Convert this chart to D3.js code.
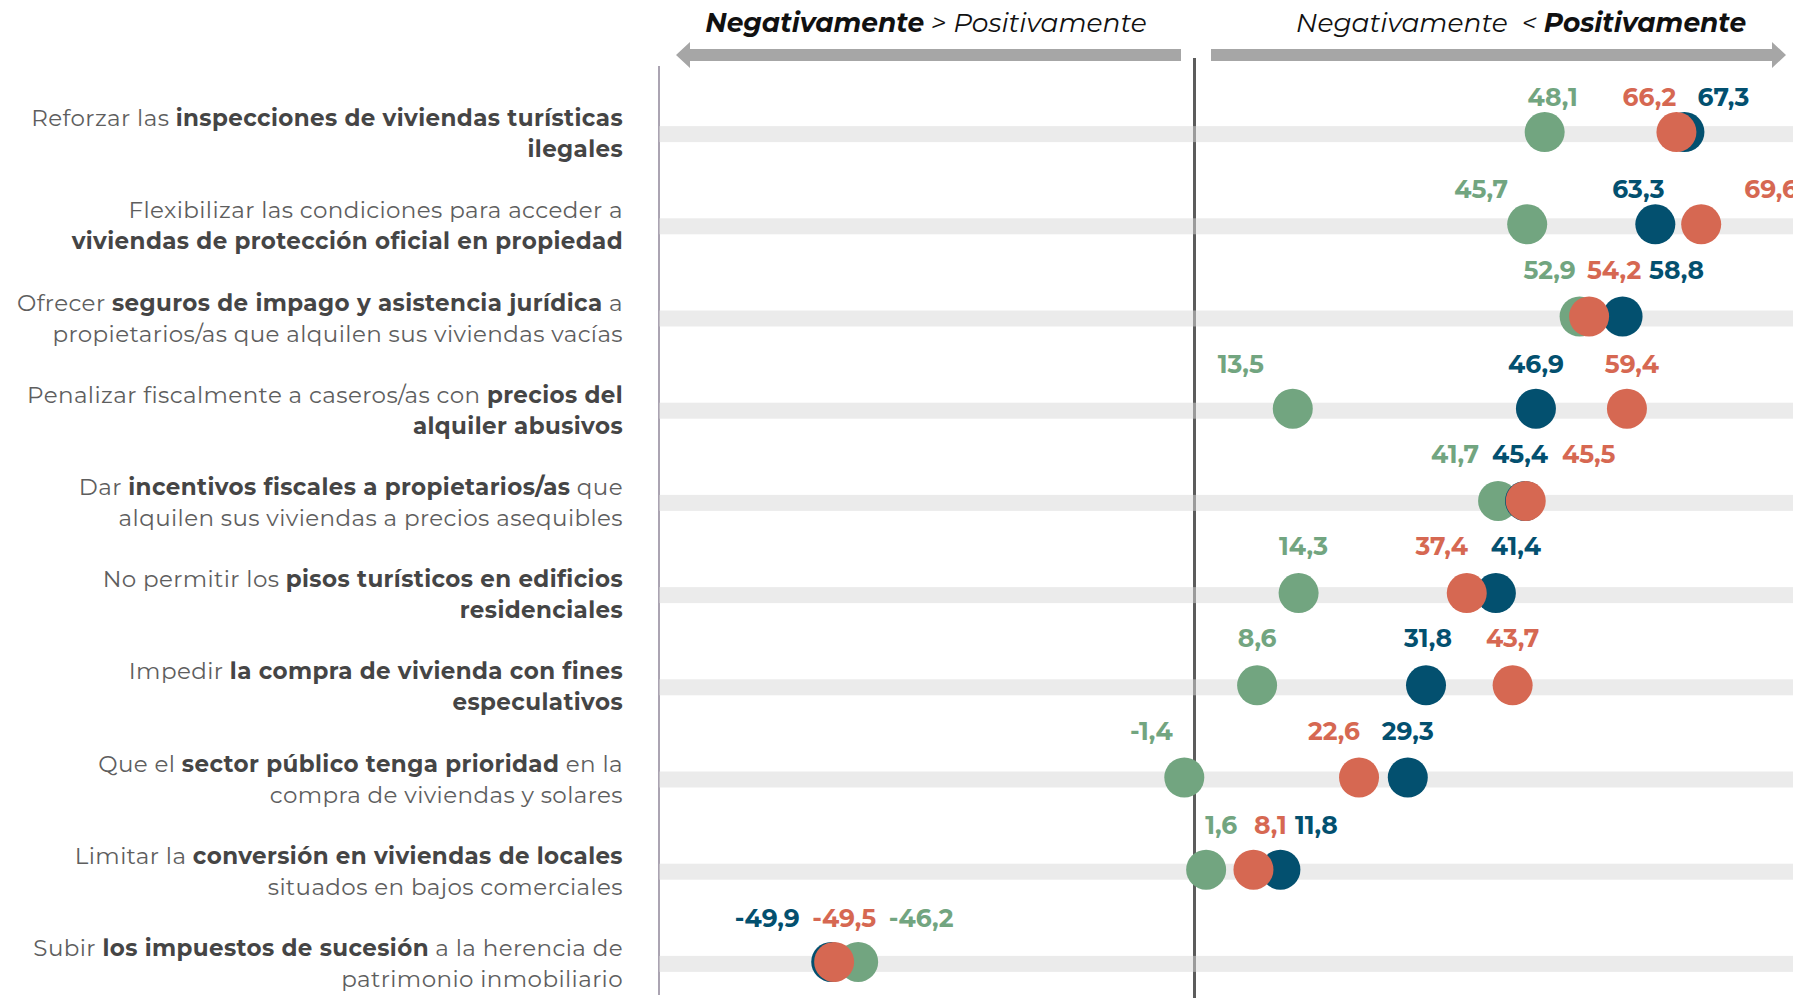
<!DOCTYPE html>
<html>
<head>
<meta charset="utf-8">
<script src="https://cdn.jsdelivr.net/npm/d3@7"></script>
<style>
  body { margin: 0; background: #fff; }
  svg { display: block; }
</style>
</head>
<body>
<div id="app"></div>
<script>
// rows, top to bottom. "|" = line break, **...** = bold
const categories = [
  "Reforzar las **inspecciones de viviendas turísticas**|**ilegales**",
  "Flexibilizar las condiciones para acceder a|**viviendas de protección oficial en propiedad**",
  "Ofrecer **seguros de impago y asistencia jurídica** a|propietarios/as que alquilen sus viviendas vacías",
  "Penalizar fiscalmente a caseros/as con **precios del**|**alquiler abusivos**",
  "Dar **incentivos fiscales a propietarios/as** que|alquilen sus viviendas a precios asequibles",
  "No permitir los **pisos turísticos en edificios**|**residenciales**",
  "Impedir **la compra de vivienda con fines**|**especulativos**",
  "Que el **sector público tenga prioridad** en la|compra de viviendas y solares",
  "Limitar la **conversión en viviendas de locales**|situados en bajos comerciales",
  "Subir **los impuestos de sucesión** a la herencia de|patrimonio inmobiliario"
]

// three groups (drawn in this order: green under blue under red)
const greenValues = [48.1, 45.7, 52.9, 13.5, 41.7, 14.3, 8.6, -1.4, 1.6, -46.2]
const blueValues  = [67.3, 63.3, 58.8, 46.9, 45.4, 41.4, 31.8, 29.3, 11.8, -49.9]
const redValues   = [66.2, 69.6, 54.2, 59.4, 45.5, 37.4, 43.7, 22.6, 8.1, -49.5]

const headerLeft  = [["Negativamente", 700], [" > ", 400], ["Positivamente", 400]]
const headerRight = [["Negativamente", 400], ["  < ", 400], ["Positivamente", 700]]

// hand placed label offsets (px) like in the original, [green, blue, red]
const labelShift = [
  [8, 39, -27], [-46, -17, 70], [-30, 54, 25], [-52, 0, 5], [-43, -5, 63],
  [5, 20, -25], [0, 2, 0], [-33, 0, -25], [15, 36, 17], [63, -64, 10]
]
const labelRise = [26, 26, 38, 36, 38, 38, 38, 38, 36, 35]

const W = 1793, H = 998
const font = "Montserrat, 'Open Sans', sans-serif"

const series = [
  { name: "verde", color: "#72a580", values: greenValues },
  { name: "azul",  color: "#03506f", values: blueValues },
  { name: "rojo",  color: "#d66852", values: redValues },
]

const svg = d3.select("#app").append("svg")
    .attr("width", W)
    .attr("height", H)
    .style("font-family", font)

const x = d3.scaleLinear()
    .domain([-50, 70])
    .range([830.5, 1704.1])

const y = d3.scaleBand()
    .domain(d3.range(categories.length))
    .range([86, 1008])
    .padding(0)
const cy = i => y(i) + y.bandwidth() / 2

// axes lines
svg.append("line")
    .attr("x1", 659).attr("x2", 659)
    .attr("y1", 66).attr("y2", 995)
    .attr("stroke", "#8f8699")
    .attr("stroke-width", 1.5)

svg.append("line")
    .attr("x1", x(0)).attr("x2", x(0))
    .attr("y1", 58).attr("y2", H)
    .attr("stroke", "#5c5c5c")
    .attr("stroke-width", 3)

// row bands (a bit transparent, the zero line shows through)
svg.append("g")
  .selectAll("rect")
  .data(categories)
  .join("rect")
    .attr("x", 659)
    .attr("width", W - 659)
    .attr("y", (d, i) => cy(i) + 2 - 8)
    .attr("height", 16)
    .attr("fill", "#d8d8d8")
    .attr("fill-opacity", 0.51)

// arrows
const arrowY = 55
const arrow = d3.line()
svg.append("path")
    .attr("d", arrow([[676, arrowY], [690, arrowY - 13], [690, arrowY - 6], [1181, arrowY - 6],
      [1181, arrowY + 6], [690, arrowY + 6], [690, arrowY + 13]]) + "Z")
    .attr("fill", "#a6a6a6")
svg.append("path")
    .attr("d", arrow([[1786, arrowY], [1772, arrowY - 13], [1772, arrowY - 6], [1211, arrowY - 6],
      [1211, arrowY + 6], [1772, arrowY + 6], [1772, arrowY + 13]]) + "Z")
    .attr("fill", "#a6a6a6")

// headers
function header(parts, xc) {
  const t = svg.append("text")
      .attr("x", xc)
      .attr("y", 32)
      .attr("text-anchor", "middle")
      .attr("font-size", 26.5)
      .attr("font-style", "italic")
      .attr("fill", "#111")
      .style("white-space", "pre")
  t.selectAll("tspan")
    .data(parts)
    .join("tspan")
      .attr("font-weight", d => d[1])
      .text(d => d[0])
}
header(headerLeft, 926)
header(headerRight, 1521)

// category labels
const labels = svg.append("g")
    .attr("text-anchor", "end")
    .attr("font-size", 23)
    .attr("letter-spacing", 0.4)
categories.forEach((c, i) => {
  c.split("|").forEach((line, j) => {
    const t = labels.append("text")
        .attr("x", 623)
        .attr("y", cy(i) - 6 + j * 31)
        .style("white-space", "pre")
    line.split("**").forEach((seg, k) => {
      if (!seg) return
      t.append("tspan")
          .attr("font-weight", k % 2 ? 700 : 400)
          .attr("fill", k % 2 ? "#454545" : "#5e5e5e")
          .text(seg)
    })
  })
})

// dots
series.forEach(s => {
  svg.append("g")
    .selectAll("circle")
    .data(s.values)
    .join("circle")
      .attr("cx", d => x(d))
      .attr("cy", (d, i) => cy(i))
      .attr("r", 20)
      .attr("fill", s.color)
})

// value labels
const fmt = d3.format(".1f")
series.forEach((s, si) => {
  svg.append("g")
    .selectAll("text")
    .data(s.values)
    .join("text")
      .attr("x", (d, i) => x(d) + labelShift[i][si])
      .attr("y", (d, i) => cy(i) - labelRise[i])
      .attr("text-anchor", "middle")
      .attr("font-size", 25)
      .attr("font-weight", 700)
      .attr("fill", s.color)
      .text(d => fmt(d).replace("−", "-").replace(".", ","))
})
</script>
</body>
</html>
